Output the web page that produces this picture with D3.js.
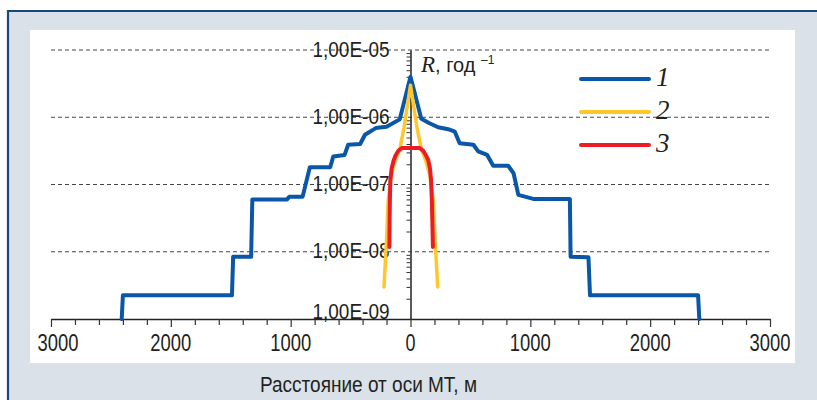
<!DOCTYPE html>
<html><head><meta charset="utf-8">
<script src="https://cdn.jsdelivr.net/npm/d3@7"></script>
<style>body{margin:0;background:#fff}svg{display:block}</style>
</head><body>
<svg id="c" width="817" height="400"></svg>
<script>
// ---- data ----
const blueX = [-2410,-2400,-1490,-1480,-1330,-1320,-1030,-1010,-900,-840,-670,-645,-550,-520,-420,-380,-290,-200,-90,0,90,150,230,315,370,410,525,565,640,690,815,860,900,1025,1330,1336,1485,1498,2400,2410];
const blueR = [1e-9,2.25e-9,2.25e-9,8.4e-9,8.4e-9,6.0e-8,6.0e-8,6.6e-8,6.6e-8,1.8e-7,1.8e-7,2.6e-7,2.75e-7,3.9e-7,4.0e-7,5.5e-7,6.9e-7,7.2e-7,9.3e-7,4.0e-6,9.5e-7,8.3e-7,7.1e-7,6.65e-7,6.1e-7,4.1e-7,3.9e-7,3.1e-7,2.75e-7,1.9e-7,1.9e-7,1.47e-7,7.0e-8,6.1e-8,6.1e-8,8.4e-9,8.3e-9,2.25e-9,2.25e-9,1e-9];
const yellowX = [-221,-200,-186,-160,-130,-90,-55,0,55,92,130,160,190,205,227];
const yellowR = [3.0e-9,1.5e-8,5.9e-8,1.4e-7,2.2e-7,3.3e-7,6.9e-7,3.0e-6,6.9e-7,3.3e-7,2.2e-7,1.4e-7,5.9e-8,1.5e-8,3.0e-9];
const redX = [-176,-174,-172,-168,-157,-140,-125,-100,-70,0,75,105,130,148,162,171,178,182,187];
const redR = [1.18e-8,3e-8,6e-8,1.17e-7,1.75e-7,2.3e-7,2.7e-7,3.2e-7,3.5e-7,3.5e-7,3.5e-7,3.2e-7,2.7e-7,2.3e-7,1.75e-7,1.2e-7,6e-8,3e-8,1.18e-8];
const seriesNames = ["1","2","3"];
const seriesColors = ["#0a57a8","#ffc72c","#ec1c24"];
const xMajorTicks = [-3000,-2000,-1000,0,1000,2000,3000];
const xTickLabels = ["3000","2000","1000","0","1000","2000","3000"];
const yDecades = [1e-9,1e-8,1e-7,1e-6,1e-5];
const yTickLabels = ["1,00E-09","1,00E-08","1,00E-07","1,00E-06","1,00E-05"];
const xTitle = "Расстояние от оси МТ, м";

// ---- drawing ----
const svg = d3.select("#c");
const SANS = "'Liberation Sans Narrow','Arial Narrow','Liberation Sans',Arial,sans-serif";
svg.append("rect").attr("x",0).attr("y",0).attr("width",817).attr("height",400).attr("fill","#fff");
svg.append("rect").attr("x",8).attr("y",11).attr("width",809).attr("height",389).attr("fill","#dae1e8");
svg.append("line").attr("x1",7).attr("x2",817).attr("y1",11).attr("y2",11).attr("stroke","#174a7c").attr("stroke-width",2.2);
svg.append("line").attr("x1",8).attr("x2",8).attr("y1",10).attr("y2",400).attr("stroke","#174a7c").attr("stroke-width",2.2);
svg.append("rect").attr("x",30).attr("y",30).attr("width",765).attr("height",333).attr("fill","#fff");

const x = d3.scaleLinear().domain([-3000,3000]).range([51,770]);
const y = d3.scaleLog().domain([1e-9,1e-5]).range([319,50]);

// grid
svg.append("g").selectAll("line").data(yDecades.slice(1)).join("line")
  .attr("x1",51).attr("x2",769).attr("y1",d=>y(d)).attr("y2",d=>y(d))
  .attr("stroke","#444").attr("stroke-width",1).attr("stroke-dasharray","4,3");

// y axis minor ticks
const minor = [];
for (let e=-9;e<-5;e++) for (let k=2;k<=9;k++) minor.push(k*Math.pow(10,e));
const gy = svg.append("g").attr("transform",`translate(${x(0)},0)`)
  .call(d3.axisLeft(y).tickValues(minor).tickSize(4).tickSizeOuter(0).tickFormat(""));
gy.select(".domain").attr("stroke","#222").attr("stroke-width",1.5);
gy.selectAll(".tick line").attr("stroke","#333").attr("stroke-width",1);

// y labels
const gyl = svg.append("g").attr("transform",`translate(${x(0)},0)`)
  .call(d3.axisLeft(y).tickValues(yDecades).tickSize(0).tickPadding(21).tickFormat((d,i)=>yTickLabels[i]));
gyl.select(".domain").remove();
gyl.selectAll(".tick text").attr("font-family",SANS).attr("font-size",22).attr("fill","#231f20")
  .attr("dy","6").attr("textLength",77).attr("lengthAdjust","spacingAndGlyphs");
gyl.selectAll(".tick").filter(d=>d===1e-9).select("text").attr("dy","-1");

// x axis
const xMinor = d3.range(-3000,3001,200);
const gx = svg.append("g").attr("transform","translate(0,319)")
  .call(d3.axisBottom(x).tickValues(xMinor).tickSize(6).tickSizeOuter(0).tickFormat(""));
gx.select(".domain").attr("stroke","#222").attr("stroke-width",1.5);
gx.selectAll(".tick line").attr("stroke","#333").attr("stroke-width",1.2)
  .attr("y2",d=>xMajorTicks.includes(d)?8:6);
svg.append("g").selectAll("text").data(xMajorTicks).join("text")
  .attr("x",(d,i)=>x(d)+(i===0?7:0)).attr("y",351).attr("text-anchor","middle")
  .attr("font-family",SANS).attr("font-size",23).attr("fill","#231f20")
  .attr("textLength",(d,i)=>xTickLabels[i].length===1?10:41).attr("lengthAdjust","spacingAndGlyphs")
  .text((d,i)=>xTickLabels[i]);

svg.append("text").attr("x",260).attr("y",391.5).attr("font-family",SANS).attr("font-size",22)
  .attr("fill","#231f20").attr("textLength",217).attr("lengthAdjust","spacingAndGlyphs").text(xTitle);

// R label
const rl = svg.append("text").attr("x",421).attr("y",72).attr("fill","#231f20");
rl.append("tspan").attr("font-family","'Liberation Serif','Times New Roman',serif").attr("font-style","italic").attr("font-size",23).text("R");
rl.append("tspan").attr("font-family",SANS).attr("font-size",20).text(", год");
svg.append("text").attr("x",481).attr("y",63.5).attr("font-family",SANS).attr("font-size",12).attr("fill","#231f20").text("–1");

// curves
const line = d3.line().x(d=>x(d[0])).y(d=>y(d[1]));
const series = [
  d3.zip(blueX,blueR), d3.zip(yellowX,yellowR), d3.zip(redX,redR)
];
const widths = [4,3.5,4];
series.forEach((s,i)=>{
  svg.append("path").datum(s).attr("d",line).attr("fill","none")
    .attr("stroke",seriesColors[i]).attr("stroke-width",widths[i])
    .attr("stroke-linejoin","round").attr("stroke-linecap","round");
});

// legend
const lg = svg.append("g");
seriesNames.forEach((n,i)=>{
  const ly = 79 + i*33;
  lg.append("line").attr("x1",581).attr("x2",649).attr("y1",ly).attr("y2",ly)
    .attr("stroke",seriesColors[i]).attr("stroke-width",4).attr("stroke-linecap","round");
  lg.append("text").attr("x",656).attr("y",ly+6.5).attr("font-family","'Liberation Serif','Times New Roman',serif")
    .attr("font-style","italic").attr("font-size",27).attr("fill","#231f20").text(n);
});
</script>
</body></html>
